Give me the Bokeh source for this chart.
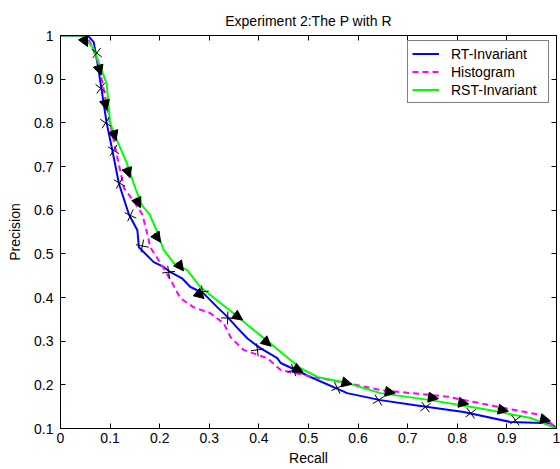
import numpy as np
from bokeh.plotting import figure
from bokeh.models import (Range1d, FixedTicker, LinearAxis, Legend, LegendItem, Arrow,
                          NormalHead, ColumnDataSource)
from bokeh.embed import file_html
from bokeh.resources import INLINE

# ---- data ----
rt_r = [0, 0.055, 0.067, 0.074, 0.081, 0.093, 0.104, 0.118, 0.138, 0.155, 0.158, 0.188,
        0.208, 0.222, 0.245, 0.262, 0.288, 0.316, 0.337, 0.357, 0.377, 0.403, 0.437, 0.444,
        0.504, 0.578, 0.645, 0.712, 0.813, 0.907, 0.988, 1.0]
rt_p = [1, 1, 0.985, 0.94, 0.89, 0.80, 0.74, 0.66, 0.59, 0.554, 0.515, 0.481,
        0.47, 0.458, 0.444, 0.424, 0.41, 0.378, 0.355, 0.33, 0.306, 0.284, 0.261, 0.25,
        0.218, 0.181, 0.165, 0.154, 0.138, 0.115, 0.112, 0.1]

hist_r = [0, 0.05, 0.062, 0.075, 0.085, 0.098, 0.111, 0.128, 0.148, 0.165, 0.175, 0.181,
          0.202, 0.222, 0.242, 0.268, 0.302, 0.329, 0.343, 0.369, 0.417, 0.444, 0.510,
          0.578, 0.645, 0.780, 0.881, 0.968, 1.0]
hist_p = [1, 1, 0.98, 0.94, 0.89, 0.81, 0.74, 0.65, 0.62, 0.59, 0.546, 0.515,
          0.478, 0.44, 0.398, 0.378, 0.364, 0.341, 0.309, 0.28, 0.261, 0.234, 0.218,
          0.204, 0.188, 0.173, 0.15, 0.131, 0.1]

rst_r = [0, 0.045, 0.067, 0.08, 0.093, 0.10, 0.11, 0.133, 0.151, 0.165, 0.18, 0.195,
         0.208, 0.229, 0.256, 0.282, 0.323, 0.349, 0.377, 0.41, 0.444, 0.484, 0.518,
         0.578, 0.645, 0.746, 0.847, 0.948, 1.0]
rst_p = [1, 1, 0.97, 0.93, 0.89, 0.80, 0.77, 0.71, 0.65, 0.61, 0.59, 0.55,
         0.509, 0.478, 0.462, 0.424, 0.387, 0.364, 0.337, 0.307, 0.275, 0.238, 0.218,
         0.204, 0.181, 0.165, 0.146, 0.124, 0.1]

# arrow-head markers (on RST curve) and cross markers (on RT curve)
tri_r = [0.05, 0.079, 0.091, 0.109, 0.137, 0.157, 0.196, 0.242, 0.282, 0.359, 0.417,
         0.48, 0.578, 0.665, 0.752, 0.813, 0.893, 0.978]
tri_p = [0.985, 0.92, 0.84, 0.77, 0.685, 0.616, 0.536, 0.47, 0.405, 0.355, 0.296,
         0.234, 0.204, 0.183, 0.17, 0.158, 0.142, 0.12]
crs_r = [0.073, 0.081, 0.091, 0.107, 0.119, 0.141, 0.165, 0.218, 0.286, 0.337, 0.397,
         0.47, 0.558, 0.641, 0.736, 0.827, 0.917]
crs_p = [0.96, 0.879, 0.80, 0.737, 0.662, 0.588, 0.518, 0.458, 0.413, 0.353, 0.28,
         0.234, 0.193, 0.165, 0.149, 0.135, 0.119]

x_ticks = [0, 0.1, 0.2, 0.3, 0.4, 0.5, 0.6, 0.7, 0.8, 0.9, 1]
x_labels = ["0", "0.1", "0.2", "0.3", "0.4", "0.5", "0.6", "0.7", "0.8", "0.9", "1"]
y_ticks = [0.1, 0.2, 0.3, 0.4, 0.5, 0.6, 0.7, 0.8, 0.9, 1]
y_labels = ["0.1", "0.2", "0.3", "0.4", "0.5", "0.6", "0.7", "0.8", "0.9", "1"]

series_names = ["RT-Invariant", "Histogram", "RST-Invariant"]

# ---- layout ----
FW, FH = 496, 393
FONT = "Liberation Sans"

p = figure(frame_width=FW, frame_height=FH, output_backend="svg", toolbar_location=None,
           x_range=Range1d(0, 1), y_range=Range1d(0.1, 1),
           min_border_left=60, min_border_right=4, min_border_top=35, min_border_bottom=41,
           background_fill_color="white", border_fill_color="white")
p.grid.visible = False
p.outline_line_color = "black"

p.title.text = "Experiment 2:The P with R"
p.title.align = "center"
p.title.vertical_align = "top"
p.title.text_font = FONT
p.title.text_font_size = "14px"
p.title.text_font_style = "normal"
p.title.text_color = "black"

def style_axis(ax, ticks, labels, show_labels=True):
    ax.ticker = FixedTicker(ticks=ticks)
    ax.major_label_overrides = {t: l for t, l in zip(ticks, labels)}
    ax.major_tick_in = 5
    ax.major_tick_out = 0
    ax.minor_tick_line_color = None
    ax.axis_line_color = "black"
    ax.major_tick_line_color = "black"
    ax.major_label_text_font = FONT
    ax.major_label_text_color = "black"
    if show_labels:
        ax.major_label_text_font_size = "14px"
    else:
        ax.major_label_text_font_size = "0px"
        ax.major_label_standoff = 0

style_axis(p.xaxis[0], x_ticks, x_labels)
style_axis(p.yaxis[0], y_ticks, y_labels)
p.xaxis[0].major_label_standoff = 4
p.yaxis[0].major_label_standoff = 7
for ax, lab in ((p.xaxis[0], "Recall"), (p.yaxis[0], "Precision")):
    ax.axis_label = lab
    ax.axis_label_text_font = FONT
    ax.axis_label_text_font_size = "14px"
    ax.axis_label_text_font_style = "normal"
    ax.axis_label_text_color = "black"
p.xaxis[0].axis_label_standoff = 4
p.yaxis[0].axis_label_standoff = 8

top_ax = LinearAxis()
style_axis(top_ax, x_ticks, ["" for _ in x_ticks], show_labels=False)
right_ax = LinearAxis()
style_axis(right_ax, y_ticks, ["" for _ in y_ticks], show_labels=False)
p.add_layout(top_ax, "above")
p.add_layout(right_ax, "right")

# ---- curves ----
r1 = p.line(rt_r, rt_p, line_color="#0000FF", line_width=2)
r2 = p.line(hist_r, hist_p, line_color="#FF00FF", line_width=2, line_dash="6 4")
r3 = p.line(rst_r, rst_p, line_color="#00FF00", line_width=2)

# marker orientation follows the local direction of each curve on screen
sx, sy = FW / 1.0, FH / 0.9
tr = np.array(tri_r); tp = np.array(tri_p)
t_phi = np.arctan2(np.gradient(tp) * sy, np.gradient(tr) * sx)
cr = np.array(crs_r); cp = np.array(crs_p)
c_phi = np.arctan2(np.gradient(cp) * sy, np.gradient(cr) * sx)

p.scatter(crs_r, crs_p, marker="x", size=13, angle=c_phi, line_color="black",
          line_width=1)

# arrow heads: tip a few px ahead of the read centre, tail a few px behind
ahead, behind = 5.0, 6.0
arr_src = ColumnDataSource(dict(
    x0=tr - np.cos(t_phi) * behind / sx, y0=tp - np.sin(t_phi) * behind / sy,
    x1=tr + np.cos(t_phi) * ahead / sx, y1=tp + np.sin(t_phi) * ahead / sy))
p.add_layout(Arrow(end=NormalHead(size=10, fill_color="black", line_color="black", line_width=1),
                   x_start="x0", y_start="y0", x_end="x1", y_end="y1",
                   line_color="black", line_width=1, source=arr_src))

legend = Legend(items=[LegendItem(label=n, renderers=[r]) for n, r in zip(series_names, (r1, r2, r3))],
                location=(347, 325), orientation="vertical",
                border_line_color="black", border_line_width=1,
                background_fill_color="white", background_fill_alpha=1,
                label_text_font=FONT, label_text_font_size="14px", label_text_color="black",
                glyph_width=27, glyph_height=17, label_height=17, label_standoff=12,
                label_width=93, padding=4, spacing=1, margin=0)
p.add_layout(legend)

open("out.html", "w").write(file_html(p, INLINE))
